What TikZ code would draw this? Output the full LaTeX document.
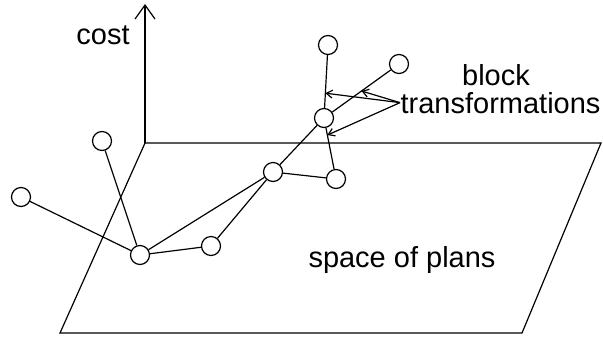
\documentclass[tikz,border=0pt]{standalone}
\usepackage{fontspec}
\setmainfont{Liberation Sans}
\usetikzlibrary{arrows.meta,calc}

\begin{document}
\begin{tikzpicture}[
  x=0.5pt,y=-0.5pt,
  line width=0.6pt,
  plan/.style={circle,draw,minimum size=9.5pt,inner sep=0pt,fill=white},
  caption/.style={inner sep=0pt,font=\fontsize{14.5}{17}\selectfont},
  pointer/.style={-{Straight Barb[length=3pt,width=4pt]}}
]
  \useasboundingbox (0,0) rectangle (603,338);
  % space of plans and cost axis
  \coordinate (origin) at (145,143);
  \coordinate (top) at (145,4);
  \coordinate (farright) at (601,143);
  \coordinate (nearright) at (522,333);
  \coordinate (nearleft) at (60,333);
  \draw (origin) -- (farright) -- (nearright) -- (nearleft) -- cycle;
  \draw[-{Straight Barb[length=7pt,width=10pt]}] (origin) -- (top);

  % plans
  \node[plan] (a) at (102,141) {};
  \node[plan] (b) at (21,197) {};
  \node[plan] (c) at (140,255) {};
  \node[plan] (d) at (211,246) {};
  \node[plan] (e) at (273,172) {};
  \node[plan] (f) at (336,179) {};
  \node[plan] (g) at (324,118) {};
  \node[plan] (h) at (328,45) {};
  \node[plan] (i) at (399,64) {};

  \draw (b) -- (c);
  \draw (a) -- (c);
  \draw (c) -- (d);
  \draw (c) -- (e);
  \draw (d) -- (e);
  \draw (e) -- (f);
  \draw (e) -- (g);
  \draw (g) -- (f);
  \draw (g) -- (h);
  \draw (g) -- (i);

  % labels
  \node[caption,anchor=base] (cost) at (103,44) {cost};
  \node[caption,anchor=base] (block) at (496,85) {block};
  \node[caption,anchor=base west] (trans) at (400,113) {transformations};
  \node[caption,anchor=base] (space) at (402,267) {space of plans};

  \coordinate (tgh) at ($(g)!0.34!(h)$);
  \coordinate (tgi) at ($(g)!0.5!(i)$);
  \coordinate (tgf) at ($(g)!0.28!(f)$);
  \draw[pointer] (trans.west) -- (tgh);
  \draw[pointer] (trans.west) -- (tgi);
  \draw[pointer] (trans.west) -- (tgf);
\end{tikzpicture}
\end{document}
